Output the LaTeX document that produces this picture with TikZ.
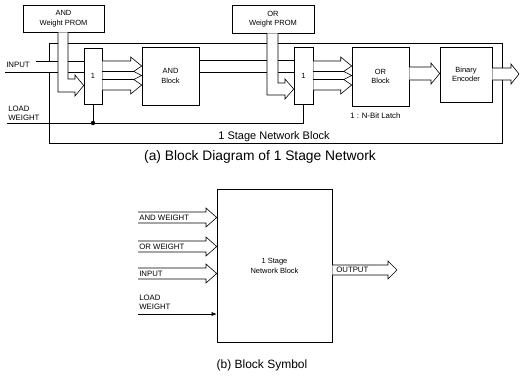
\documentclass[tikz,border=0pt]{standalone}
\usepackage{fontspec}
\setmainfont{Liberation Sans}
\usetikzlibrary{arrows.meta,calc}

\begin{document}
\begin{tikzpicture}[x=1pt, y=-1pt, line width=0.6pt,
    blk/.style={draw, inner sep=1pt, align=center, font=\fontsize{7.5}{9.5}\selectfont},
    lbl/.style={inner sep=0pt, font=\fontsize{7.8}{9}\selectfont},
    captxt/.style={inner sep=0pt, font=\fontsize{13.8}{16}\selectfont},
    bus/.style={fill=white}]
  \useasboundingbox (0,0) rectangle (520,376);

  % (a) 1 stage network
  \draw (49,43) rectangle (502,143);
  \node[inner sep=0pt, font=\fontsize{11}{13}\selectfont] (stgtxt) at (274,137) {1 Stage Network Block};

  \node[blk, minimum width=81pt, minimum height=27pt] (andprom) at (63.5,18.5) {AND\\Weight PROM};
  \node[blk, minimum width=82pt, minimum height=28pt] (orprom) at (273,19) {OR\\Weight PROM};
  \node[blk, minimum width=18pt, minimum height=56pt] (latchA) at (93,76) {1};
  \node[blk, minimum width=57pt, minimum height=58pt] (andblk) at (170.5,76) {AND\\Block};
  \node[blk, minimum width=19pt, minimum height=57pt] (latchO) at (303.5,75.5) {1};
  \node[blk, minimum width=57pt, minimum height=59pt] (orblk) at (380.5,76.5) {OR\\Block};
  \node[blk, minimum width=52pt, minimum height=55pt] (enc) at (466,74.5) {Binary\\Encoder};
  \node[lbl, anchor=west] (nbit) at (350,116) {1 : N-Bit Latch};

  % INPUT bus
  \fill[white] (5,61) rectangle (83.6,72);
  \draw (36,61) -- (latchA.west |- 0,61);
  \draw (5,72) -- (latchA.west |- 0,72);
  \node[lbl, anchor=west] (inp) at (6,65) {INPUT};

  % weight PROM buses
  \filldraw[bus] (58,32.4) -- (58,92) -- (75,92) -- ++(0,4) -- (latchA.west |- 0,85.5)
    -- (75,75) -- ++(0,4) -- (68,79) -- (68,32.4);
  \draw (andblk.east |- 0,60) -- (latchO.west |- 0,60);
  \draw (andblk.east |- 0,72) -- (latchO.west |- 0,72);
  \filldraw[bus] (267,33.4) -- (267,95) -- (285,95) -- ++(0,4) -- (latchO.west |- 0,89)
    -- (285,79) -- ++(0,4) -- (278,83) -- (278,33.4);

  % latch outputs
  \foreach \src/\dst in {latchA/andblk, latchO/orblk}{
    \filldraw[bus] (\src.east |- 0,61) -- ($(\dst.west |- 0,61)+(-11,0)$) -- ++(0,-4)
      -- (\dst.west |- 0,66) -- ($(\dst.west |- 0,71.5)+(-8,0)$)
      -- (\dst.west |- 0,75.5) -- ($(\dst.west |- 0,79.5)+(-8,0)$)
      -- (\dst.west |- 0,85) -- ($(\dst.west |- 0,94)+(-11,0)$) -- ++(0,-4)
      -- (\src.east |- 0,90);
    \draw (\src.east |- 0,71.5) -- ($(\dst.west |- 0,71.5)+(-8,0)$);
    \draw (\src.east |- 0,79.5) -- ($(\dst.west |- 0,79.5)+(-8,0)$);
  }

  % OR block to encoder to output
  \filldraw[bus] (orblk.east |- 0,67) -- (431,67) -- ++(0,-4) -- (enc.west |- 0,73.5)
    -- (431,84) -- ++(0,-4) -- (orblk.east |- 0,80);
  \coordinate (out) at (519,74);
  \filldraw[bus] (enc.east |- 0,68) -- (511,68) -- ++(0,-4) -- (out)
    -- (511,84) -- ++(0,-4) -- (enc.east |- 0,80);

  % LOAD WEIGHT
  \coordinate (lw) at (7,123);
  \node[lbl, anchor=south west, align=left] (lwtxt) at (8,120.5) {LOAD\\WEIGHT};
  \draw (lw) -- (lw -| latchO.south) -- (latchO.south);
  \draw (latchA.south) -- (latchA.south |- lw);
  \fill (latchA.south |- lw) circle (2.2pt);

  \node[captxt] (capa) at (260,157) {(a) Block Diagram of 1 Stage Network};

  % (b) block symbol
  \node[blk, minimum width=115pt, minimum height=153pt] (sym) at (274.5,266) {1 Stage\\Network Block};
  \foreach \y/\txt in {212/AND WEIGHT, 241/OR WEIGHT, 268/INPUT}{
    \filldraw[bus] (138,\y) -- (206,\y) -- ++(0,-4) -- (sym.west |- 0,\y+5.5)
      -- (206,\y+15) -- ++(0,-4) -- (138,\y+11);
    \node[lbl, anchor=west] (in\y) at (139,\y+5.5) {\txt};
  }
  \node[lbl, anchor=south west, align=left] (lwtxt2) at (139,310) {LOAD\\WEIGHT};
  \draw[-{Latex[length=5pt,width=4pt]}] (138,314) -- (sym.west |- 0,314);
  \filldraw[bus] (sym.east |- 0,265) -- (388,265) -- ++(0,-4) -- (397,270)
    -- (388,279) -- ++(0,-4) -- (sym.east |- 0,275);
  \node[lbl, anchor=west] (outtxt) at (336,270) {OUTPUT};
  \node[captxt, font=\fontsize{12}{14}\selectfont] (capb) at (262,365) {(b) Block Symbol};
\end{tikzpicture}
\end{document}
